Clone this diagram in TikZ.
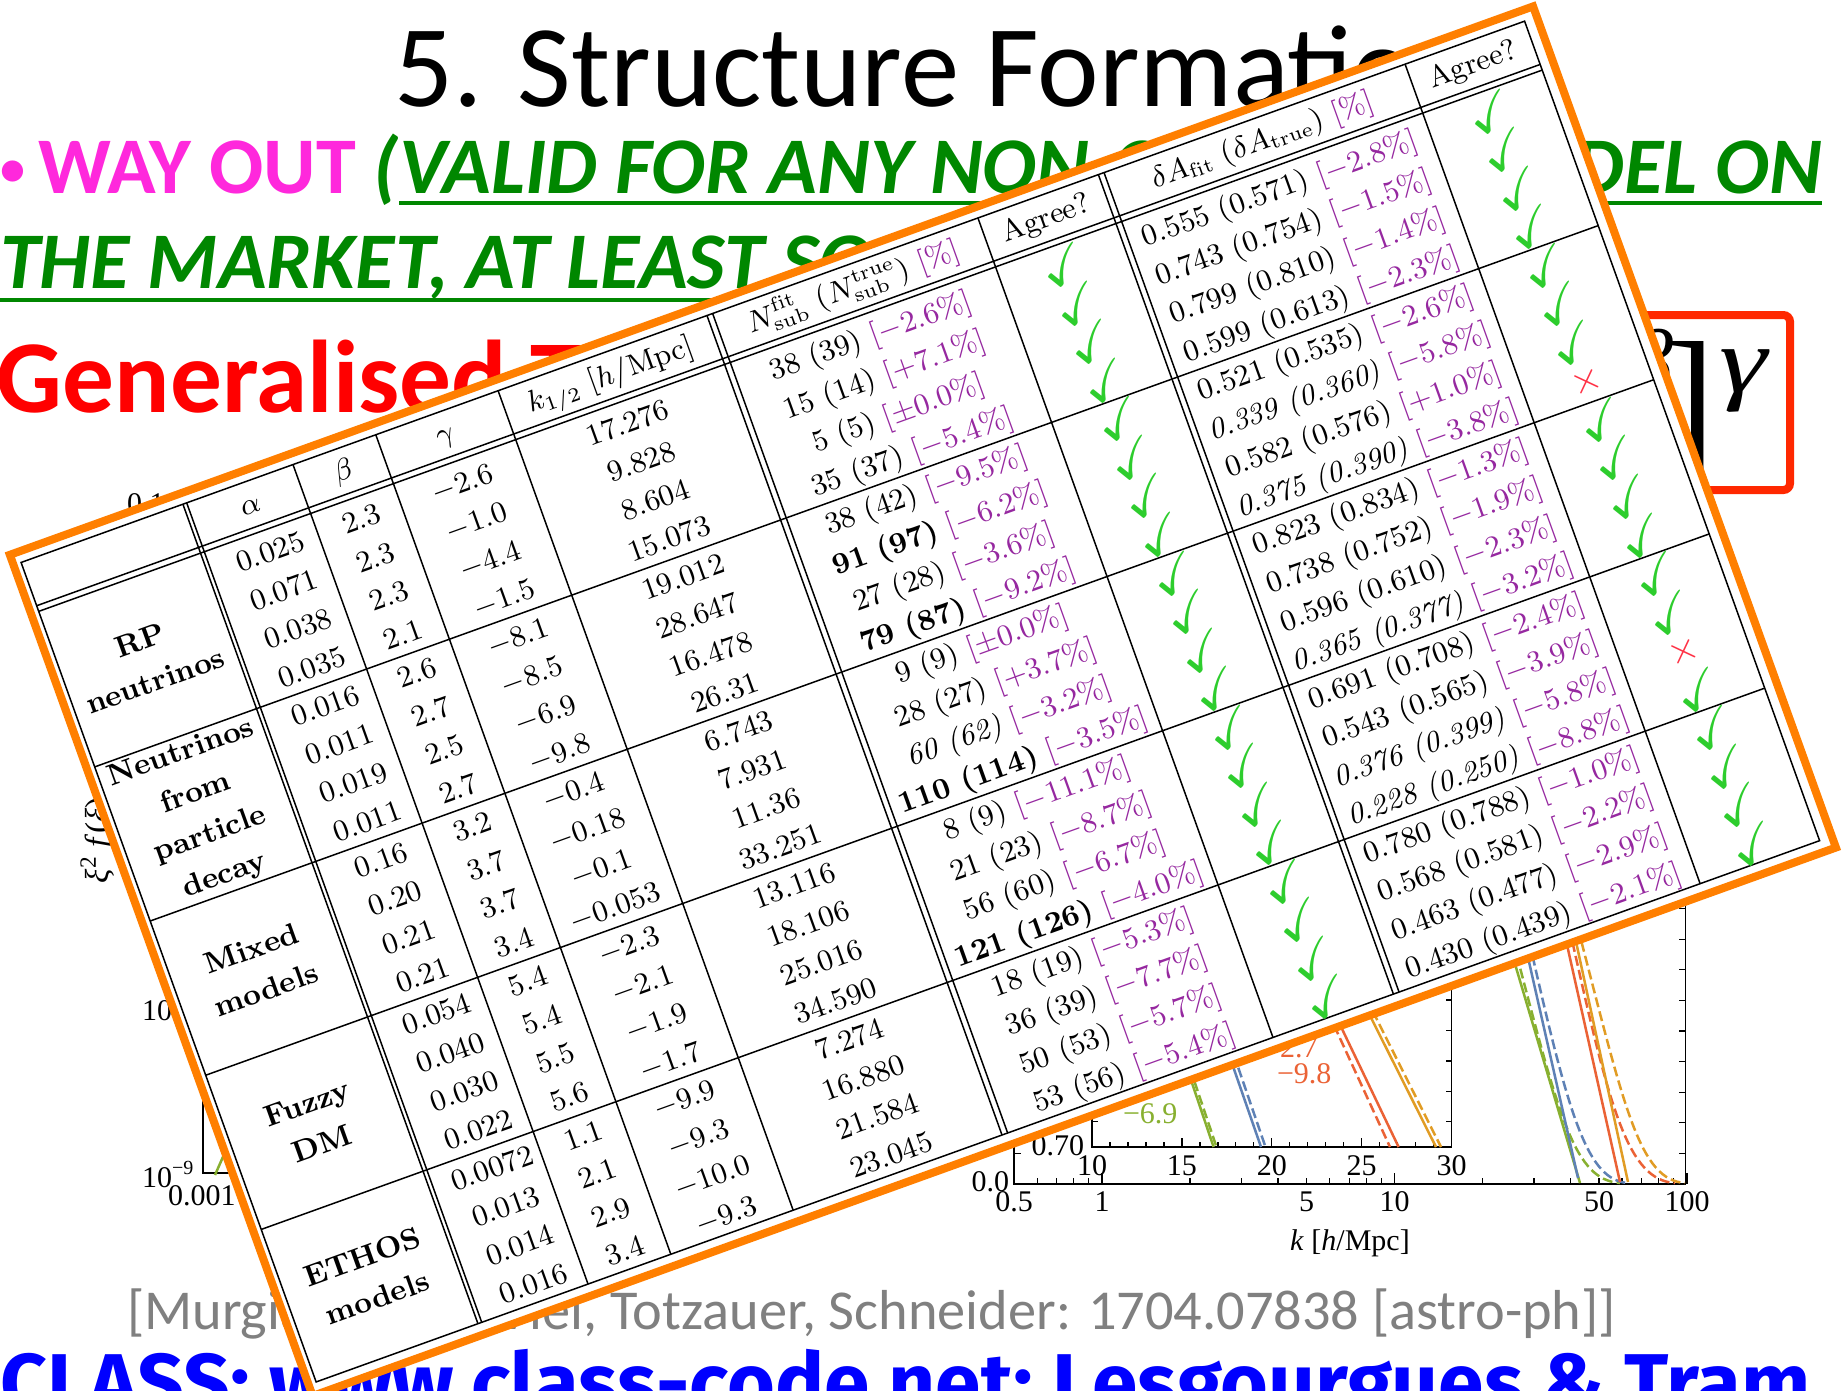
\documentclass[tikz,border=0pt]{standalone}
\usepackage{amssymb}
\usepackage{fontspec}
\usetikzlibrary{calc}
\newfontfamily\calibri{Carlito}
\newfontfamily\timesf{Liberation Serif}
\newfontfamily\handf{Fira Sans}
\definecolor{tborange}{RGB}{255,127,0}
\definecolor{pur}{RGB}{150,40,160}
\definecolor{chk}{RGB}{45,205,45}
\definecolor{crs}{RGB}{255,50,70}
\definecolor{mag}{RGB}{255,40,220}
\definecolor{grn}{RGB}{0,135,0}
\definecolor{redtxt}{RGB}{255,0,0}
\definecolor{boxred}{RGB}{255,40,0}
\definecolor{citegray}{RGB}{128,128,128}
\definecolor{handblue}{RGB}{0,0,255}
\definecolor{cgreen}{RGB}{136,176,48}
\definecolor{cblue}{RGB}{94,129,181}
\definecolor{cred}{RGB}{235,98,53}
\definecolor{corange}{RGB}{225,156,36}
\newcommand\pc[1]{\textcolor{pur}{[$#1$\%]}}
\newcommand\tabfont{\fontsize{9}{12}\selectfont}
\newcommand\namefont{\fontsize{9}{13}\selectfont\bfseries}
\newcommand\plotfont{\timesf\fontsize{9}{11}\selectfont}
\begin{document}
\begin{tikzpicture}[x=0.3pt,y=-0.3pt,
  every node/.style={inner sep=0pt,outer sep=0pt},
  slidetxt/.style={anchor=base west},
  plotlbl/.style={font=\plotfont},
  axisline/.style={line width=0.45pt,black},
  tickline/.style={line width=0.4pt,black},
  cell/.style={anchor=base,font=\tabfont},
  namecell/.style={anchor=center,align=center,font=\namefont},
  chkcell/.style={anchor=center,text=chk,font=\fontsize{16}{18}\selectfont},
  crscell/.style={anchor=center,text=crs,font=\fontsize{13}{15}\selectfont},
  tabrule/.style={line width=0.45pt,black},
  solidc/.style={line width=0.75pt},
  dashc/.style={line width=0.75pt,dash pattern=on 3pt off 1.3pt}]
\useasboundingbox (0,0) rectangle (1845,1390);
\fill[white] (0,0) rectangle (1845,1390);

% ---------- slide text ----------
\node[slidetxt,font=\calibri\fontsize{35}{40}\selectfont] (title) at (394,106) {5. Structure Formation};
\node[slidetxt,font=\calibri\bfseries\fontsize{24.1}{28}\selectfont] (l2a) at (0,193)
  {\textcolor{mag}{\raisebox{2.4pt}{\fontsize{15}{15}\selectfont\textbullet}\hspace{4pt}WAY OUT} \textcolor{grn}{\itshape (}};
\node[slidetxt,font=\calibri\bfseries\itshape\fontsize{24.1}{28}\selectfont,text=grn] (l2b) at (l2a.base east)
  {VALID FOR ANY NON-COLD DM MODEL ON};
\draw[grn,line width=1.3pt] ([yshift=-3pt]l2b.base west) -- ([yshift=-3pt]l2b.base east);
\node[slidetxt,font=\calibri\bfseries\itshape\fontsize{24.1}{28}\selectfont,text=grn] (l3a) at (0,288)
  {THE MARKET, AT LEAST SO FAR};
\node[slidetxt,font=\calibri\bfseries\itshape\fontsize{24.1}{28}\selectfont,text=grn] (l3b) at (l3a.base east) {)};
\draw[grn,line width=1.3pt] ([yshift=-3.6pt]l3a.base west) -- ([yshift=-3.6pt]l3a.base east);
\node[slidetxt,font=\calibri\bfseries\fontsize{31}{36}\selectfont,text=redtxt] (l4) at (-3,412) {Generalised TF:};
\node[anchor=base east,font=\timesf\fontsize{36}{40}\selectfont] (formula) at (1770,442)
  {\textit{T}(\textit{k}) = \raisebox{-3pt}{\fontsize{48}{50}\selectfont[}1 + (\textit{α}\textit{k})\raisebox{15pt}{\fontsize{27}{28}\selectfont\textit{β}}\kern-3pt\raisebox{-3pt}{\fontsize{48}{50}\selectfont]}\kern1pt\raisebox{15pt}{\fontsize{28}{29}\selectfont\scalebox{1.3}[1]{\textit{γ}}}};
\coordinate (boxtop) at (0,315);
\draw[boxred,line width=2.4pt,rounded corners=2pt] ($(formula.west |- boxtop)+(-25,0)$) rectangle (1790,490);

% ---------- left plot (behind table) ----------
\node[slidetxt,plotlbl] (lp1) at (127,513) {0.1};
\node[anchor=base west,font=\timesf\fontsize{10}{12}\selectfont,rotate=90] (lpy) at (108,883) {\textit{ξ}\textsuperscript{2} \textit{f}(\textit{ξ})};
\node[slidetxt,plotlbl] (lp2) at (142,1020) {10\textsuperscript{−7}};
\node[slidetxt,plotlbl] (lp3) at (142,1187) {10\textsuperscript{−9}};
\node[slidetxt,plotlbl] (lp4) at (168,1205) {0.001};
\draw[axisline] (203,500) -- (203,1173) -- (300,1173);
\draw[cgreen,solidc] (215,1175) -- (226,1150) -- (240,1100);

% ---------- right plot (behind table) ----------
\draw[axisline] (1014,900) -- (1014,1184) -- (1685.6,1184) -- (1685.6,860);
\foreach \k in {0.5,0.6,0.7,0.8,0.9,2,3,4,5,6,7,8,9,20,30,40,50,60,70,80,90}
  \draw[tickline] ({1014+292.5*(log10(\k)+0.30103)},1184) -- ++(0,-6);
\foreach \k in {1,10,100}
  \draw[tickline] ({1014+292.5*(log10(\k)+0.30103)},1184) -- ++(0,-11);
\foreach \j in {1,...,9} {
  \draw[tickline] (1685.6,{1184-30.6*\j}) -- ++(-7,0);
  \draw[tickline] (1014,{1184-30.6*\j}) -- ++(7,0);
}
\node[anchor=base,plotlbl] (xt1) at (1014,1211) {0.5};
\node[anchor=base,plotlbl] (xt2) at (1102,1211) {1};
\node[anchor=base,plotlbl] (xt3) at (1306.5,1211) {5};
\node[anchor=base,plotlbl] (xt4) at (1394.6,1211) {10};
\node[anchor=base,plotlbl] (xt5) at (1599,1211) {50};
\node[anchor=base,plotlbl] (xt6) at (1687,1211) {100};
\node[anchor=base east,plotlbl] (yt0) at (1009,1191) {0.0};
\node[anchor=base,plotlbl] (xlab) at (1350,1250) {\textit{k} [\textit{h}/Mpc]};
% inset
\draw[axisline] (1092,860) -- (1092,1147) -- (1451.5,1147) -- (1451.5,860);
\foreach \v in {11,12,13,14,16,17,18,19,21,22,23,24,26,27,28,29}
  \draw[tickline] ({1092+17.975*(\v-10)},1147) -- ++(0,-5);
\foreach \v in {10,15,20,25,30}
  \draw[tickline] ({1092+17.975*(\v-10)},1147) -- ++(0,-9);
\foreach \j in {0,...,8} {
  \draw[tickline] (1451.5,{1121.7-30.4*\j}) -- ++(-6,0);
  \draw[tickline] (1092,{1121.7-30.4*\j}) -- ++(6,0);
}
\foreach \v [count=\n] in {10,15,20,25,30}
  \node[anchor=base,plotlbl] (it\n) at ({1092+17.975*(\v-10)},1175) {\v};
\node[anchor=base east,plotlbl] (iy0) at (1084,1155) {0.70};
% inset curves
\draw[cgreen,solidc] (1164,1000) -- (1213.6,1147);
\draw[cgreen,dashc] (1167,1000) -- (1216.5,1147);
\draw[cblue,solidc] (1210,1000) -- (1261,1147);
\draw[cblue,dashc] (1215,1000) -- (1265.5,1147);
\draw[cred,solidc] (1309,960) -- (1398.6,1147);
\draw[cred,dashc] (1304,960) -- (1390,1147);
\draw[corange,solidc] (1342,960) -- (1436,1147);
\draw[corange,dashc] (1347,960) -- (1441,1147);
\node[slidetxt,plotlbl,text=cgreen] (lab69) at (1123,1123) {−6.9};
\node[slidetxt,plotlbl,text=cred] (lab27) at (1280,1057) {2.7};
\node[slidetxt,plotlbl,text=cred] (lab98) at (1277,1083) {−9.8};
% main curves
\draw[cgreen,solidc] (1496,900) -- (1580,1183);
\draw[cgreen,dashc] (1500,900) -- (1518,960) .. controls (1560,1120) and (1575,1180) .. (1620,1183);
\draw[cblue,solidc] (1515,900) -- (1578,1178);
\draw[cblue,dashc] (1519,900) -- (1533,958) .. controls (1570,1120) and (1588,1180) .. (1628,1183);
\draw[cred,solidc] (1557,900) -- (1620,1182);
\draw[cred,dashc] (1563,900) -- (1572,940) .. controls (1610,1110) and (1628,1180) .. (1675,1183);
\draw[corange,solidc] (1567,900) -- (1628,1182);
\draw[corange,dashc] (1572,900) -- (1581,940) .. controls (1625,1110) and (1640,1180) .. (1685,1183);

% ---------- bottom lines ----------
\node[slidetxt,font=\calibri\fontsize{16.9}{20}\selectfont,text=citegray] (cite) at (127,1329)
  {[Murgia, Merle, Viel, Totzauer, Schneider: 1704.07838 [astro-ph]]};
\node[slidetxt,font=\handf\bfseries\fontsize{24.6}{28}\selectfont,text=handblue] (classline) at (0,1411)
  {CLASS: www.class-code.net; Lesgourgues \& Tram};

% ---------- rotated table ----------
\begin{scope}[shift={(6,553)},rotate=19.8,transform shape]
 \draw[tborange,line width=2.4pt,fill=white] (3,3) rectangle (1622,897);
 \draw[tabrule] (11,14) rectangle (1609,885);
 \foreach \yy in {60,66,231.3,395.1,559,722.9} \draw[tabrule] (11,\yy) -- (1609,\yy);
 \foreach \xx in {183,187,300,388,518,740,746,1028,1156,1162,1482} \draw[tabrule] (\xx,14) -- (\xx,885);
 % header
 \node[cell] (hA) at (246,46) {$\alpha$};
 \node[cell] (hB) at (345,46) {$\beta$};
 \node[cell] (hC) at (453,46) {$\gamma$};
 \node[cell] (hK) at (629,46) {$k_{1/2}$ [$h$/Mpc]};
 \node[cell] (hN) at (887,46) {$N_{\mathrm{sub}}^{\mathrm{fit}}$ ($N_{\mathrm{sub}}^{\mathrm{true}}$) \textcolor{pur}{[\%]}};
 \node[cell] (hG1) at (1092,46) {Agree?};
 \node[cell] (hD) at (1322,46) {$\delta A_{\mathrm{fit}}$ ($\delta A_{\mathrm{true}}$) \textcolor{pur}{[\%]}};
 \node[cell] (hG2) at (1545.5,46) {Agree?};
 % model names
 \node[namecell] (g1) at (97,149) {RP\\neutrinos};
 \node[namecell] (g2) at (97,313) {Neutrinos\\from\\particle\\decay};
 \node[namecell] (g3) at (97,477) {Mixed\\models};
 \node[namecell] (g4) at (97,641) {Fuzzy\\DM};
 \node[namecell] (g5) at (97,804.7) {ETHOS\\models};
 % columns
 \foreach \v [count=\i] in {0.025,0.071,0.038,0.035,0.016,0.011,0.019,0.011,0.16,0.20,0.21,0.21,0.054,0.040,0.030,0.022,0.0072,0.013,0.014,0.016}
   \node[cell] (ca\i) at (249,{57.05+40.95*\i}) {\v};
 \foreach \v [count=\i] in {2.3,2.3,2.3,2.1,2.6,2.7,2.5,2.7,3.2,3.7,3.7,3.4,5.4,5.4,5.5,5.6,1.1,2.1,2.9,3.4}
   \node[cell] (cb\i) at (346,{57.05+40.95*\i}) {\v};
 \foreach \v [count=\i] in {-2.6,-1.0,-4.4,-1.5,-8.1,-8.5,-6.9,-9.8,-0.4,-0.18,-0.1,-0.053,-2.3,-2.1,-1.9,-1.7,-9.9,-9.3,-10.0,-9.3}
   \node[cell] (cc\i) at (453,{57.05+40.95*\i}) {$\v$};
 \foreach \v [count=\i] in {17.276,9.828,8.604,15.073,19.012,28.647,16.478,26.31,6.743,7.931,11.36,33.251,13.116,18.106,25.016,34.590,7.274,16.880,21.584,23.045}
   \node[cell] (ck\i) at (629,{57.05+40.95*\i}) {\v};
 \foreach \v [count=\i] in {{38 (39) \pc{-2.6}},{15 (14) \pc{+7.1}},{5 (5) \pc{\pm0.0}},{35 (37) \pc{-5.4}},
   {38 (42) \pc{-9.5}},{\textbf{91 (97)} \pc{-6.2}},{27 (28) \pc{-3.6}},{\textbf{79 (87)} \pc{-9.2}},
   {9 (9) \pc{\pm0.0}},{28 (27) \pc{+3.7}},{\textit{60 (62)} \pc{-3.2}},{\textbf{110 (114)} \pc{-3.5}},
   {8 (9) \pc{-11.1}},{21 (23) \pc{-8.7}},{56 (60) \pc{-6.7}},{\textbf{121 (126)} \pc{-4.0}},
   {18 (19) \pc{-5.3}},{36 (39) \pc{-7.7}},{50 (53) \pc{-5.7}},{53 (56) \pc{-5.4}}}
   \node[cell] (cn\i) at (887,{57.05+40.95*\i}) {\v};
 \foreach \v [count=\i] in {{0.555 (0.571) \pc{-2.8}},{0.743 (0.754) \pc{-1.5}},{0.799 (0.810) \pc{-1.4}},{0.599 (0.613) \pc{-2.3}},
   {0.521 (0.535) \pc{-2.6}},{\textit{0.339 (0.360)} \pc{-5.8}},{0.582 (0.576) \pc{+1.0}},{\textit{0.375 (0.390)} \pc{-3.8}},
   {0.823 (0.834) \pc{-1.3}},{0.738 (0.752) \pc{-1.9}},{0.596 (0.610) \pc{-2.3}},{\textit{0.365 (0.377)} \pc{-3.2}},
   {0.691 (0.708) \pc{-2.4}},{0.543 (0.565) \pc{-3.9}},{\textit{0.376 (0.399)} \pc{-5.8}},{\textit{0.228 (0.250)} \pc{-8.8}},
   {0.780 (0.788) \pc{-1.0}},{0.568 (0.581) \pc{-2.2}},{0.463 (0.477) \pc{-2.9}},{0.430 (0.439) \pc{-2.1}}}
   \node[cell] (cd\i) at (1322,{57.05+40.95*\i}) {\v};
 \foreach \i in {1,...,20}
   \node[chkcell] (ag\i) at (1092,{47.05+40.95*\i}) {$\checkmark$};
 \foreach \i in {1,...,7,9,10,11,12,13,14,16,17,18,19,20}
   \node[chkcell] (bg\i) at (1545.5,{47.05+40.95*\i}) {$\checkmark$};
 \foreach \i in {8,15}
   \node[crscell] (bx\i) at (1545.5,{47.05+40.95*\i}) {$\times$};
\end{scope}
\end{tikzpicture}
\end{document}
